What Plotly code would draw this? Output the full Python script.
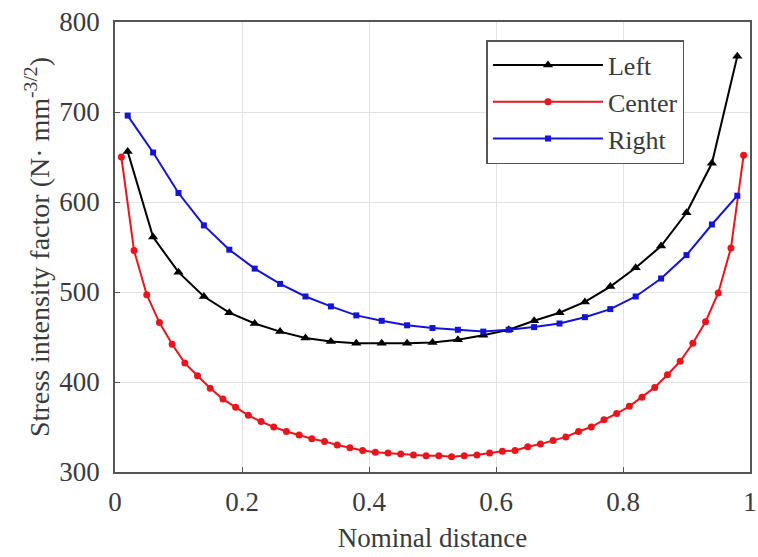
import plotly.graph_objects as go

x_lr = [0.02, 0.06, 0.10, 0.14, 0.18, 0.22, 0.26, 0.30, 0.34, 0.38, 0.42, 0.46, 0.50,
        0.54, 0.58, 0.62, 0.66, 0.70, 0.74, 0.78, 0.82, 0.86, 0.90, 0.94, 0.98]
left = [656, 561, 522, 495, 477, 465, 456, 449, 445, 443, 443, 443, 444,
        447, 452, 458, 468, 477, 489, 506, 527, 551, 588, 643, 762]
right = [696, 655, 610, 574, 547, 526, 509, 495, 484, 474, 468, 463, 460,
         458, 456, 458, 461, 465, 472, 481, 495, 515, 541, 575, 607]

x_c = [round(0.01 + 0.02 * i, 2) for i in range(50)]
center = [650, 546, 497, 466, 442, 421, 407, 393, 381, 372,
          363, 356, 350, 345, 341, 337, 334, 330, 327, 324,
          322, 321, 320, 319, 318, 318, 317, 318, 319, 321,
          323, 324, 328, 331, 335, 339, 345, 350, 358, 365,
          373, 383, 394, 408, 423, 443, 467, 499, 549, 652]

x_ticks = [0, 0.2, 0.4, 0.6, 0.8, 1]
x_tick_labels = ["0", "0.2", "0.4", "0.6", "0.8", "1"]
y_ticks = [300, 400, 500, 600, 700, 800]

FONT = "Liberation Serif"
TXT = "#3a3a3a"

fig = go.Figure()
fig.add_trace(go.Scatter(x=x_lr, y=left, name="Left", mode="lines+markers",
                         line=dict(color="#000000", width=2),
                         marker=dict(symbol="triangle-up", size=9, color="#000000")))
fig.add_trace(go.Scatter(x=x_c, y=center, name="Center", mode="lines+markers",
                         line=dict(color="#e8161c", width=2),
                         marker=dict(symbol="circle", size=7, color="#e8161c")))
fig.add_trace(go.Scatter(x=x_lr, y=right, name="Right", mode="lines+markers",
                         line=dict(color="#1414d4", width=2),
                         marker=dict(symbol="square", size=6, color="#1414d4")))

axis_common = dict(showline=True, linecolor="#555555", linewidth=1.5, mirror=True,
                   ticks="inside", ticklen=5, tickcolor="#555555", automargin=False,
                   showgrid=True, gridcolor="#e3e3e3", gridwidth=1, zeroline=False,
                   tickfont=dict(family=FONT, size=27, color=TXT))

fig.update_layout(
    width=758, height=557,
    margin=dict(l=115, r=8, t=22, b=85),
    paper_bgcolor="white", plot_bgcolor="white",
    font=dict(family=FONT, color=TXT),
    showlegend=True,
    legend=dict(x=0.585, y=0.96, xanchor="left", yanchor="top",
                bgcolor="white", bordercolor="#555555", borderwidth=1.5,
                font=dict(family=FONT, size=26, color=TXT),
                itemwidth=110, tracegroupgap=0),
)
fig.update_xaxes(range=[0, 1], tickvals=x_ticks, ticktext=x_tick_labels, ticklabelstandoff=5,
                 title=dict(text="Nominal distance", font=dict(family=FONT, size=27, color=TXT), standoff=12),
                 **axis_common)
fig.update_yaxes(range=[300, 800], tickvals=y_ticks, ticklabelstandoff=8,
                 title=dict(text="Stress intensity factor (N· mm<sup>-3/2</sup>)",
                            font=dict(family=FONT, size=28, color=TXT), standoff=2),
                 **axis_common)

fig.write_html("out.html", config={"displayModeBar": False},
               post_script="document.body.style.margin='0px';")
